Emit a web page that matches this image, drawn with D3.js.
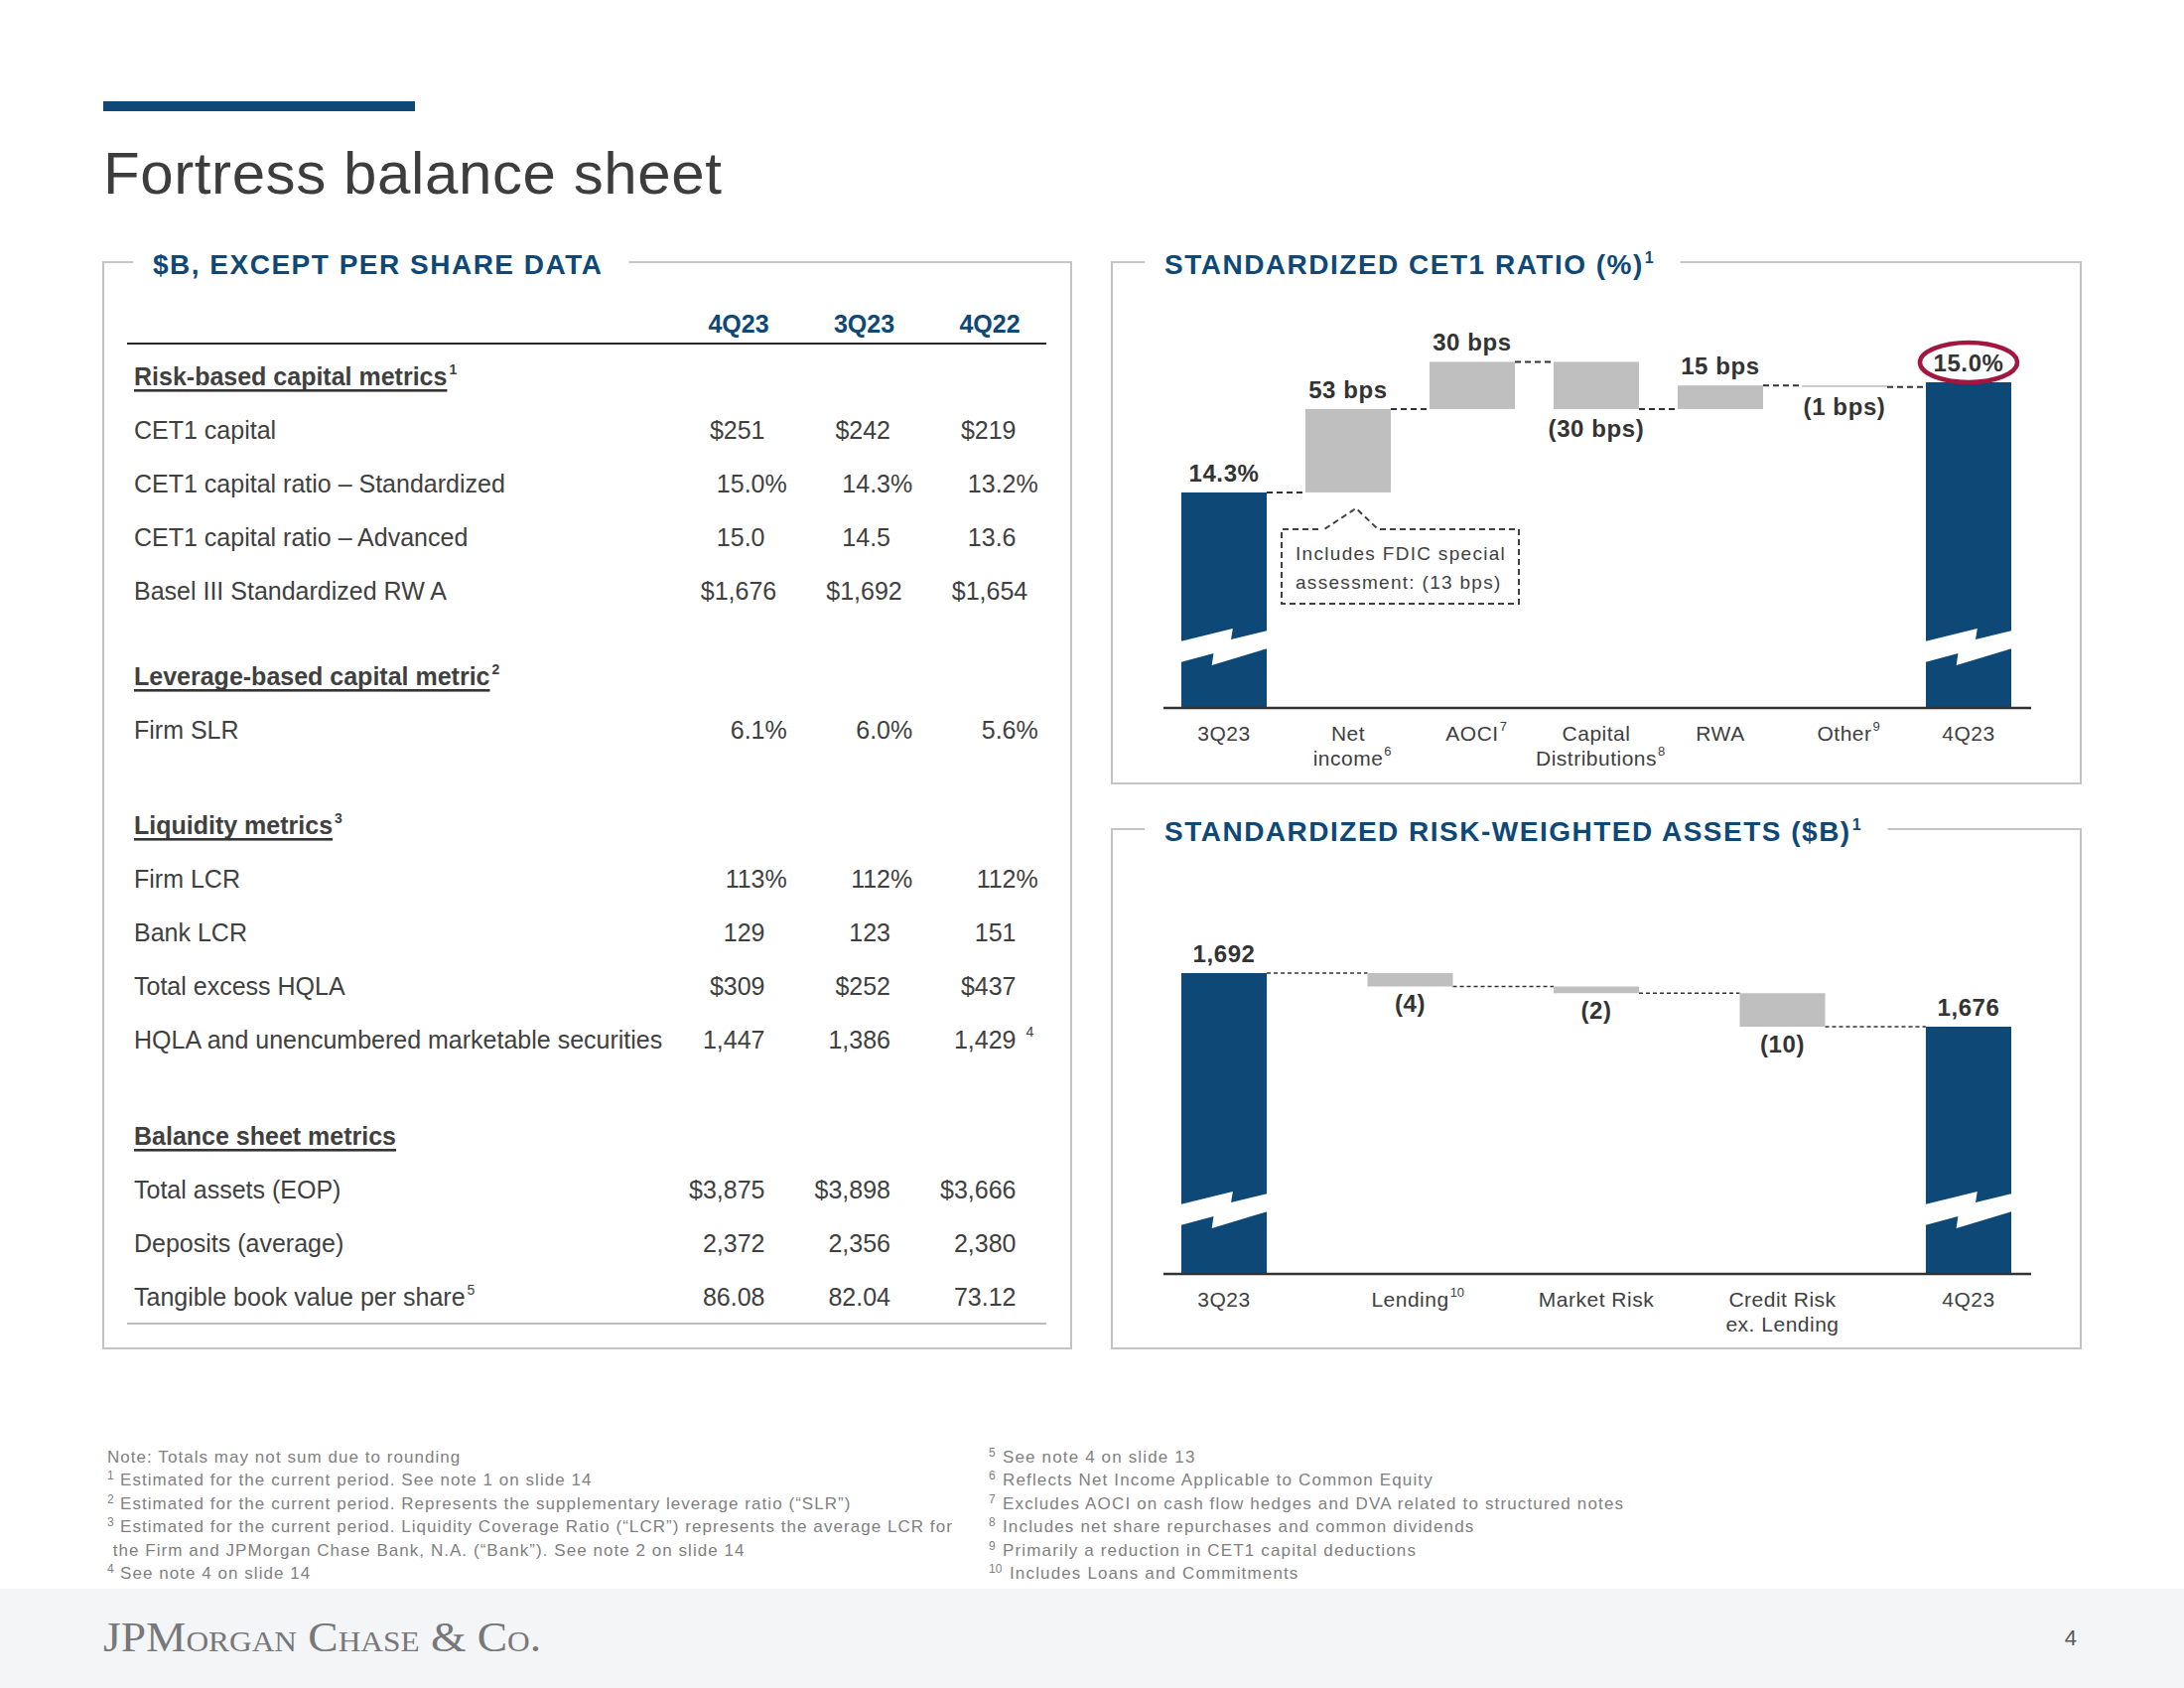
<!DOCTYPE html>
<html><head><meta charset="utf-8">
<script src="https://cdn.jsdelivr.net/npm/d3@7"></script>
<style>
body{margin:0;background:#fff;}
svg{display:block;font-family:"Liberation Sans",Arial,sans-serif;}
</style></head><body>
<svg id="c" width="2200" height="1700"></svg>
<script>
// ---------------- DATA ----------------
const slideTitle = "Fortress balance sheet";
const tableTitle = "$B, EXCEPT PER SHARE DATA";
const tableCols = ["4Q23", "3Q23", "4Q22"];

const sectionTitles = ["Risk-based capital metrics", "Leverage-based capital metric", "Liquidity metrics", "Balance sheet metrics"];
const sectionNotes = ["1", "2", "3", ""];

const riskRows = ["CET1 capital", "CET1 capital ratio – Standardized", "CET1 capital ratio – Advanced", "Basel III Standardized RW A"];
const riskValues = [["$251", "$242", "$219"], ["15.0%", "14.3%", "13.2%"], ["15.0", "14.5", "13.6"], ["$1,676", "$1,692", "$1,654"]];
const leverageRows = ["Firm SLR"];
const leverageValues = [["6.1%", "6.0%", "5.6%"]];
const liquidityRows = ["Firm LCR", "Bank LCR", "Total excess HQLA", "HQLA and unencumbered marketable securities"];
const liquidityValues = [["113%", "112%", "112%"], ["129", "123", "151"], ["$309", "$252", "$437"], ["1,447", "1,386", "1,429"]];
const balanceRows = ["Total assets (EOP)", "Deposits (average)", "Tangible book value per share"];
const balanceValues = [["$3,875", "$3,898", "$3,666"], ["2,372", "2,356", "2,380"], ["86.08", "82.04", "73.12"]];
const rowLabelNotes = {"Tangible book value per share": "5"};
const valueNotes = {"HQLA and unencumbered marketable securities|4Q22": "4"};

const cetTitle = "STANDARDIZED CET1 RATIO (%)";
const cetCategories = ["3Q23", "Net income", "AOCI", "Capital Distributions", "RWA", "Other", "4Q23"];
const cetLabelLines = [["3Q23"], ["Net", "income"], ["AOCI"], ["Capital", "Distributions"], ["RWA"], ["Other"], ["4Q23"]];
const cetLabelNotes = ["", "6", "7", "8", "", "9", ""];
const cetValues = [14.3, 0.53, 0.30, -0.30, 0.15, -0.01, 15.0];
const cetValueLabels = ["14.3%", "53 bps", "30 bps", "(30 bps)", "15 bps", "(1 bps)", "15.0%"];
const cetCallout = ["Includes FDIC special", "assessment: (13 bps)"];

const rwaTitle = "STANDARDIZED RISK-WEIGHTED ASSETS ($B)";
const rwaCategories = ["3Q23", "Lending", "Market Risk", "Credit Risk ex. Lending", "4Q23"];
const rwaLabelLines = [["3Q23"], ["Lending"], ["Market Risk"], ["Credit Risk", "ex. Lending"], ["4Q23"]];
const rwaLabelNotes = ["", "10", "", "", ""];
const rwaValues = [1692, -4, -2, -10, 1676];
const rwaValueLabels = ["1,692", "(4)", "(2)", "(10)", "1,676"];

const notesLeft = [
  ["", "Note: Totals may not sum due to rounding"],
  ["1", "Estimated for the current period. See note 1 on slide 14"],
  ["2", "Estimated for the current period. Represents the supplementary leverage ratio (“SLR”)"],
  ["3", "Estimated for the current period. Liquidity Coverage Ratio (“LCR”) represents the average LCR for"],
  ["", " the Firm and JPMorgan Chase Bank, N.A. (“Bank”). See note 2 on slide 14"],
  ["4", "See note 4 on slide 14"]
];
const notesRight = [
  ["5", "See note 4 on slide 13"],
  ["6", "Reflects Net Income Applicable to Common Equity"],
  ["7", "Excludes AOCI on cash flow hedges and DVA related to structured notes"],
  ["8", "Includes net share repurchases and common dividends"],
  ["9", "Primarily a reduction in CET1 capital deductions"],
  ["10", "Includes Loans and Commitments"]
];
const logoText = "JPMorgan Chase & Co.";
const pageNumber = "4";

// ---------------- STYLE ----------------
const NAVY = "#0e4876", BARGRAY = "#bfbfbf", TXT = "#404040", LBL = "#333333", BORDER = "#c4c4c4";
const svg = d3.select("#c");
svg.append("rect").attr("width", 2200).attr("height", 1700).attr("fill", "#fff");

// header
svg.append("rect").attr("x", 104).attr("y", 102).attr("width", 314).attr("height", 10).attr("fill", NAVY);
svg.append("text").attr("x", 104).attr("y", 195).attr("font-size", 60).attr("letter-spacing", 0.6)
  .attr("fill", "#3d3d3d").text(slideTitle);

// panels with titles breaking the border
function panel(x0, y0, x1, y1, title, sup) {
  const tx = x0 + (x0 < 200 ? 50 : 53);
  const t = svg.append("text").attr("x", tx).attr("y", y0 + 12).attr("font-size", 28).attr("font-weight", "bold")
    .attr("letter-spacing", 1.5).attr("fill", NAVY).text(title);
  let end = tx + t.node().getComputedTextLength();
  if (sup) {
    const s = svg.append("text").attr("x", end + 1).attr("y", y0 + 1).attr("font-size", 16).attr("font-weight", "bold")
      .attr("fill", NAVY).text(sup);
    end += 2 + s.node().getComputedTextLength();
  }
  svg.append("path").attr("fill", "none").attr("stroke", BORDER).attr("stroke-width", 2)
    .attr("d", `M${tx - 20},${y0}H${x0}V${y1}H${x1}V${y0}H${end + 26}`);
}
panel(104, 264, 1079, 1358, tableTitle, "");
panel(1120, 264, 2096, 789, cetTitle, "1");
panel(1120, 835, 2096, 1358, rwaTitle, "1");

// ---------------- TABLE ----------------
const colX = d3.scalePoint().domain(tableCols).range([744, 997]);
const colRight = c => colX(c) + 26.5;
svg.selectAll(".colhead").data(tableCols).join("text").attr("class", "colhead")
  .attr("x", d => colX(d)).attr("y", 335).attr("text-anchor", "middle").attr("font-size", 25)
  .attr("font-weight", "bold").attr("fill", NAVY).text(d => d);
svg.append("line").attr("x1", 128).attr("x2", 1054).attr("y1", 346).attr("y2", 346).attr("stroke", "#262626").attr("stroke-width", 2);

const sections = [
  {title: sectionTitles[0], note: sectionNotes[0], rows: riskRows, values: riskValues},
  {title: sectionTitles[1], note: sectionNotes[1], rows: leverageRows, values: leverageValues},
  {title: sectionTitles[2], note: sectionNotes[2], rows: liquidityRows, values: liquidityValues},
  {title: sectionTitles[3], note: sectionNotes[3], rows: balanceRows, values: balanceValues}
];
const centeredRows = ["Basel III Standardized RW A"];
const sectionGaps = [86, 96, 97];
const ROWSTEP = 54, LX = 135;
let yy = 388;
sections.forEach((sec, si) => {
  const h = svg.append("text").attr("x", LX).attr("y", yy).attr("font-size", 25).attr("font-weight", "bold")
    .attr("fill", TXT).text(sec.title);
  const hl = h.node().getComputedTextLength();
  svg.append("rect").attr("x", LX).attr("y", yy + 4).attr("width", hl).attr("height", 2.6).attr("fill", "#333");
  if (sec.note) svg.append("text").attr("x", LX + hl + 2).attr("y", yy - 11).attr("font-size", 14).attr("font-weight", "bold")
    .attr("fill", TXT).text(sec.note);
  sec.rows.forEach((r, ri) => {
    yy += ROWSTEP;
    const t = svg.append("text").attr("x", LX).attr("y", yy).attr("font-size", 25).attr("fill", TXT).text(r);
    if (rowLabelNotes[r]) svg.append("text").attr("x", LX + t.node().getComputedTextLength() + 2).attr("y", yy - 11)
      .attr("font-size", 14).attr("fill", TXT).text(rowLabelNotes[r]);
    tableCols.forEach((c, ci) => {
      const v = sec.values[ri][ci];
      const g = svg.append("g").attr("font-size", 25).attr("fill", TXT);
      if (centeredRows.includes(r)) {
        g.append("text").attr("x", colX(c)).attr("y", yy).attr("text-anchor", "middle").text(v);
      } else if (v.endsWith("%")) {
        g.append("text").attr("x", colRight(c)).attr("y", yy).attr("text-anchor", "end").text(v.slice(0, -1));
        g.append("text").attr("x", colRight(c)).attr("y", yy).text("%");
      } else {
        g.append("text").attr("x", colRight(c)).attr("y", yy).attr("text-anchor", "end").text(v);
      }
      const vn = valueNotes[r + "|" + c];
      if (vn) svg.append("text").attr("x", colRight(c) + 10).attr("y", yy - 12).attr("font-size", 14).attr("fill", TXT).text(vn);
    });
  });
  if (si < sectionGaps.length) yy += sectionGaps[si];
});
svg.append("line").attr("x1", 128).attr("x2", 1054).attr("y1", yy + 18).attr("y2", yy + 18).attr("stroke", "#bdbdbd").attr("stroke-width", 2);

// ---------------- WATERFALLS ----------------
const breakShape = [[0, 0], [0.6, -13], [0.58, -2], [1, -11], [1, 7], [0.36, 24], [0.38, 12], [0, 21]];
function waterfall(o) {
  const x = d3.scaleBand().domain(o.cats).range(o.xr).paddingInner(o.pad).paddingOuter(0);
  const y = o.y, bw = x.bandwidth(), base = y.range()[0];
  const g = svg.append("g");
  let run = 0;
  const bars = o.vals.map((v, i) => {
    const total = i === 0 || i === o.vals.length - 1;
    if (total) { run = v; return {c: o.cats[i], lo: y.domain()[0], hi: v, total: true, end: v, neg: false}; }
    const s = run; run += v;
    return {c: o.cats[i], lo: Math.min(s, run), hi: Math.max(s, run), total: false, end: run, neg: v < 0};
  });
  // connectors
  for (let i = 0; i < bars.length - 1; i++) {
    const lvl = bars[i].end;
    g.append("line").attr("x1", x(bars[i].c) + bw).attr("x2", x(bars[i + 1].c)).attr("y1", y(lvl)).attr("y2", y(lvl))
      .attr("stroke", "#333").attr("stroke-width", o.dashW).attr("stroke-dasharray", o.dash);
  }
  g.selectAll("rect.bar").data(bars).join("rect").attr("class", "bar")
    .attr("x", d => x(d.c)).attr("width", bw)
    .attr("y", d => y(d.hi)).attr("height", d => Math.max(1.5, y(d.lo) - y(d.hi)))
    .attr("fill", d => d.total ? NAVY : BARGRAY);
  // axis break marks
  const by = base - o.breakOff;
  bars.filter(d => d.total).forEach(d => {
    const x0 = x(d.c);
    g.append("polygon").attr("fill", "#fff")
      .attr("points", breakShape.map(p => [x0 - 1 + p[0] * (bw + 2), by + p[1]].join(",")).join(" "));
  });
  // baseline
  g.append("line").attr("x1", o.xr[0] - 18).attr("x2", o.xr[1] + 20).attr("y1", base).attr("y2", base)
    .attr("stroke", "#333").attr("stroke-width", 2.5);
  // value labels
  bars.forEach((d, i) => {
    const cx = x(d.c) + bw / 2;
    const ly = d.neg ? y(d.lo) + o.below : y(d.hi) - o.above;
    g.append("text").attr("x", cx).attr("y", ly).attr("text-anchor", "middle").attr("font-size", 24)
      .attr("font-weight", "bold").attr("letter-spacing", 0.6).attr("fill", LBL).text(o.labels[i]);
    d.labelY = ly; d.cx = cx;
  });
  // category labels
  o.lines.forEach((ls, i) => {
    const cx = x(o.cats[i]) + bw / 2;
    ls.forEach((l, j) => {
      const ty = base + 33 + j * 25;
      const t = g.append("text").attr("x", cx).attr("y", ty).attr("text-anchor", "middle").attr("font-size", 21)
        .attr("letter-spacing", 0.5).attr("fill", TXT).text(l);
      if (j === ls.length - 1 && o.notes[i]) {
        const w = t.node().getComputedTextLength();
        g.append("text").attr("x", cx + w / 2 + 1).attr("y", ty - 10).attr("font-size", 13).attr("fill", TXT).text(o.notes[i]);
      }
    });
  });
  return {x, y, bars, bw};
}

const cetY = d3.scaleLinear().domain([12.93, 15.0]).range([713, 385]);
const cet = waterfall({cats: cetCategories, vals: cetValues, labels: cetValueLabels, lines: cetLabelLines, notes: cetLabelNotes,
  xr: [1190, 2026], pad: 0.312, y: cetY, breakOff: 67, above: 11, below: 28, dash: "6,4", dashW: 2});

// highlight ellipse around final CET1 value
const lastC = cet.bars[cet.bars.length - 1];
svg.append("ellipse").attr("cx", lastC.cx).attr("cy", lastC.labelY - 9).attr("rx", 49).attr("ry", 20)
  .attr("fill", "none").attr("stroke", "#a1173f").attr("stroke-width", 4.5);

// callout under the Net income bar
const ni = cet.bars[1];
const bx = cet.x(ni.c) - 24, bt = cetY(cetValues[0]) + 37, bwid = 239, bh = 75;
const apexX = ni.cx + 8;
svg.append("path").attr("fill", "none").attr("stroke", "#404040").attr("stroke-width", 2).attr("stroke-dasharray", "6,4")
  .attr("d", `M${apexX - 38},${bt}H${bx}V${bt + bh}H${bx + bwid}V${bt}H${apexX + 22}L${apexX},${bt - 21}L${apexX - 32},${bt}`);
cetCallout.forEach((l, i) => {
  svg.append("text").attr("x", bx + 14).attr("y", bt + 31 + i * 29).attr("font-size", 19).attr("letter-spacing", 1.3)
    .attr("fill", TXT).text(l);
});

const rwaY = d3.scaleLinear().domain([1602.2, 1692]).range([1283, 980]);
waterfall({cats: rwaCategories, vals: rwaValues, labels: rwaValueLabels, lines: rwaLabelLines, notes: rwaLabelNotes,
  xr: [1190, 2026], pad: 0.541, y: rwaY, breakOff: 70, above: 11, below: 26, dash: "4,3", dashW: 1.5});

// ---------------- FOOTNOTES ----------------
function notes(arr, x0, textX, ls) {
  arr.forEach((n, i) => {
    const y = 1473 + i * 23.4;
    if (n[0]) svg.append("text").attr("x", x0).attr("y", y - 6).attr("font-size", 12).attr("fill", "#7f7f7f").text(n[0]);
    svg.append("text").attr("x", n[0] ? (n[0].length > 1 ? textX + 7 : textX) : x0).attr("y", y).attr("font-size", 17)
      .attr("letter-spacing", ls).attr("fill", "#7f7f7f").attr("xml:space", "preserve").style("white-space", "pre").text(n[1]);
  });
}
notes(notesLeft, 108, 121, 1.05);
notes(notesRight, 996, 1010, 1.15);

// ---------------- FOOTER ----------------
svg.append("rect").attr("x", 0).attr("y", 1600).attr("width", 2200).attr("height", 100).attr("fill", "#f4f5f7");
svg.append("text").attr("x", 104).attr("y", 1663).attr("font-family", "'Liberation Serif', serif").attr("font-size", 42)
  .style("font-variant", "small-caps").attr("textLength", 441).attr("lengthAdjust", "spacingAndGlyphs")
  .attr("fill", "#77787b").text(logoText);
svg.append("text").attr("x", 2092).attr("y", 1657).attr("text-anchor", "end").attr("font-size", 22).attr("fill", "#595959").text(pageNumber);
</script>
</body></html>
